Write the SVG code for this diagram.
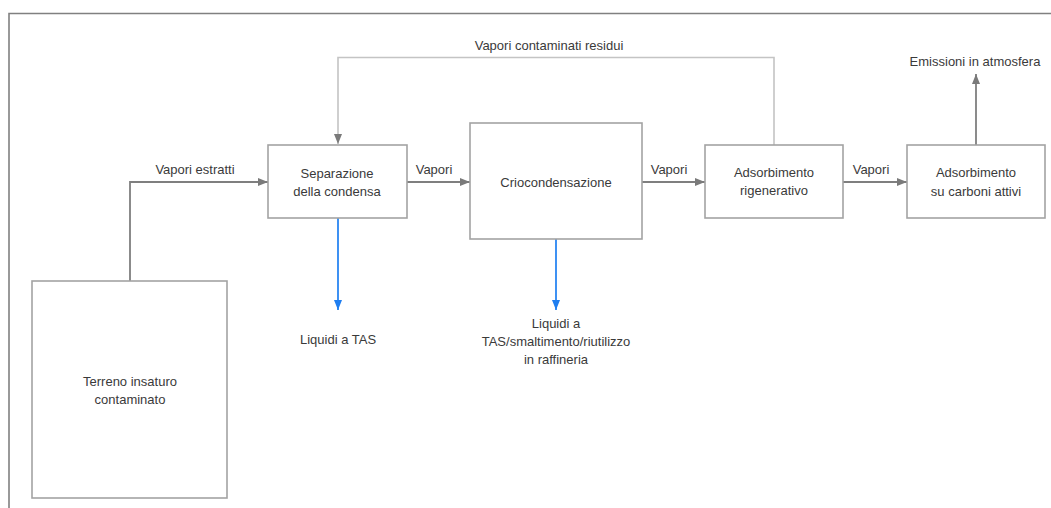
<svg xmlns="http://www.w3.org/2000/svg" width="1051" height="508" viewBox="0 0 1051 508">
  <defs>
    <marker id="ahGray" viewBox="0 0 10 10" refX="10" refY="5" markerWidth="10" markerHeight="10" markerUnits="userSpaceOnUse" orient="auto">
      <path d="M0,1 L10,5 L0,9 Z" fill="#7a7a7a"/>
    </marker>
    <marker id="ahBlue" viewBox="0 0 10 10" refX="10" refY="5" markerWidth="10" markerHeight="10" markerUnits="userSpaceOnUse" orient="auto">
      <path d="M0,1 L10,5 L0,9 Z" fill="#1f7ef0"/>
    </marker>
    <style>
      .box { fill: #ffffff; stroke: #a3a3a3; stroke-width: 1.6; }
      .lbl { font-family: "Liberation Sans", Arial, sans-serif; font-size: 13px; fill: #3a3a3a; text-anchor: middle; }
      .flow { fill: none; stroke: #7f7f7f; stroke-width: 1.8; marker-end: url(#ahGray); }
      .back { fill: none; stroke: #c4c4c4; stroke-width: 1.6; marker-end: url(#ahGray); }
      .liq { fill: none; stroke: #2a86f2; stroke-width: 1.8; marker-end: url(#ahBlue); }
      .frame { fill: none; stroke: #808080; stroke-width: 1.6; }
    </style>
  </defs>

  <rect width="1051" height="508" fill="#ffffff"/>

  <!-- outer frame (top and left edges) -->
  <path class="frame" d="M9,508 L9,13.5 L1051,13.5"/>

  <!-- connectors -->
  <g id="connectors">
    <path class="flow" d="M130,281 L130,182 L268,182"/>
    <path class="flow" d="M407,182 L470,182"/>
    <path class="flow" d="M642,182 L705,182"/>
    <path class="flow" d="M843,182 L907,182"/>
    <path class="flow" d="M976,145 L976,74"/>
    <path class="back" d="M774,145 L774,57.5 L338,57.5 L338,144"/>
    <path class="liq" d="M338,218 L338,310"/>
    <path class="liq" d="M556,239 L556,310"/>
  </g>

  <!-- connector labels -->
  <g id="labels">
    <text class="lbl" x="195" y="174">Vapori estratti</text>
    <text class="lbl" x="434" y="174">Vapori</text>
    <text class="lbl" x="669" y="174">Vapori</text>
    <text class="lbl" x="871" y="174">Vapori</text>
    <text class="lbl" x="549" y="50">Vapori contaminati residui</text>
    <text class="lbl" x="975" y="66">Emissioni in atmosfera</text>
    <text class="lbl" x="338" y="344">Liquidi a TAS</text>
    <text class="lbl" x="556" y="328">Liquidi a</text>
    <text class="lbl" x="556" y="346">TAS/smaltimento/riutilizzo</text>
    <text class="lbl" x="556" y="364">in raffineria</text>
  </g>

  <!-- nodes -->
  <g id="terreno">
    <rect class="box" x="32" y="281" width="195" height="217"/>
    <text class="lbl" x="130" y="386">Terreno insaturo</text>
    <text class="lbl" x="130" y="404">contaminato</text>
  </g>
  <g id="separazione">
    <rect class="box" x="268" y="145" width="139" height="73"/>
    <text class="lbl" x="337" y="178">Separazione</text>
    <text class="lbl" x="337" y="196">della condensa</text>
  </g>
  <g id="criocondensazione">
    <rect class="box" x="470" y="123" width="172" height="116"/>
    <text class="lbl" x="556" y="187">Criocondensazione</text>
  </g>
  <g id="adsorbimento-rigenerativo">
    <rect class="box" x="705" y="145" width="138" height="73"/>
    <text class="lbl" x="774" y="177">Adsorbimento</text>
    <text class="lbl" x="774" y="195">rigenerativo</text>
  </g>
  <g id="adsorbimento-carboni">
    <rect class="box" x="907" y="145" width="138" height="73"/>
    <text class="lbl" x="976" y="177">Adsorbimento</text>
    <text class="lbl" x="976" y="196">su carboni attivi</text>
  </g>
</svg>
